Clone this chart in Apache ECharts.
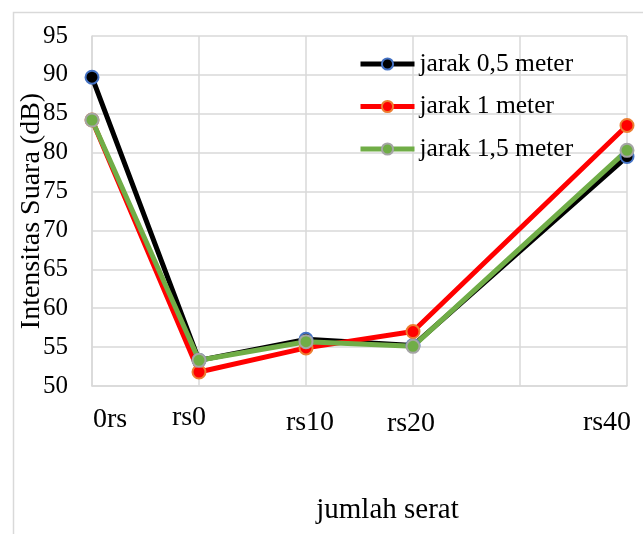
<!DOCTYPE html>
<html>
<head>
<meta charset="utf-8">
<script src="https://cdn.jsdelivr.net/npm/echarts@6/dist/echarts.min.js"></script>
<style>html,body{margin:0;padding:0;background:#fff;}#c{width:643px;height:534px;}</style>
</head>
<body>
<div id="c"></div>
<script>
const categories = ['0rs', 'rs0', 'rs10', 'rs20', '', 'rs40'];
const seriesNames = ['jarak 0,5 meter', 'jarak 1 meter', 'jarak 1,5 meter'];
const jarak05 = [89.7, 53.3, 56.0, 55.2, null, 79.5];
const jarak1 = [84.2, 51.8, 54.9, 57.0, null, 83.5];
const jarak15 = [84.2, 53.3, 55.7, 55.1, null, 80.3];
const yTicks = { min: 50, max: 95, interval: 5 };
const yName = 'Intensitas Suara (dB)';
const xName = 'jumlah serat';

const FONT = 'Liberation Serif';
const grid = '#D9D9D9';
const labelStyles = [
  { padding: [21, 0, 0, 36] },
  { padding: [17, 20, 0, 0] },
  { padding: [28, 0, 0, 8] },
  { padding: [30, 4, 0, 0] },
  { padding: [0, 0, 0, 0] },
  { padding: [27, 40, 0, 0] }
];
const rich = {};
labelStyles.forEach((s, i) => {
  rich['c' + i] = Object.assign({ fontFamily: FONT, fontSize: 28, color: '#000', lineHeight: 30 }, s);
});

function mk(name, data, color, border) {
  return {
    name, type: 'line', data, connectNulls: true,
    symbol: 'circle', symbolSize: 13,
    lineStyle: { color, width: 5 },
    itemStyle: { color, borderColor: border, borderWidth: 2 },
    emphasis: { disabled: true }, animation: false
  };
}

const chart = echarts.init(document.getElementById('c'));
chart.setOption({
  animation: false,
  backgroundColor: '#fff',
  graphic: [{
    type: 'rect', left: 11, top: 10, shape: { width: 700, height: 600 },
    style: { fill: 'none', stroke: grid, lineWidth: 1.5 }, silent: true
  }],
  grid: { left: 92, right: 16, top: 36, bottom: 148, containLabel: false, outerBoundsMode: 'none' },
  legend: {
    orient: 'vertical', left: 353, top: 46,
    itemWidth: 54, itemHeight: 14, itemGap: 16.5,
    lineStyle: { width: 5 },
    textStyle: { fontFamily: FONT, fontSize: 25.5, color: '#000', lineHeight: 24, padding: [0, 0, 0, 0] },
    data: seriesNames
  },
  xAxis: {
    type: 'category', data: categories, boundaryGap: false,
    axisLine: { show: true, lineStyle: { color: grid, width: 1.5 } },
    axisTick: { show: false },
    splitLine: { show: true, lineStyle: { color: grid, width: 1.5 } },
    axisLabel: {
      interval: 0, margin: 8,
      formatter: (v, i) => v ? '{c' + i + '|' + v + '}' : '',
      rich
    },
    name: xName, nameLocation: 'middle', nameGap: 110, nameMoveOverlap: false,
    nameTextStyle: { fontFamily: FONT, fontSize: 29, color: '#000', padding: [0, 0, 0, 56] }
  },
  yAxis: {
    type: 'value', min: yTicks.min, max: yTicks.max, interval: yTicks.interval,
    axisLine: { show: true, lineStyle: { color: grid, width: 1.5 } },
    axisTick: { show: false },
    splitLine: { show: true, lineStyle: { color: grid, width: 1.5 } },
    axisLabel: { fontFamily: FONT, fontSize: 25, color: '#000', margin: 24 },
    name: yName, nameLocation: 'middle', nameGap: 46, nameRotate: 90, nameMoveOverlap: false,
    nameTextStyle: { fontFamily: FONT, fontSize: 28, color: '#000' }
  },
  series: [
    mk(seriesNames[0], jarak05, '#000000', '#4472C4'),
    mk(seriesNames[1], jarak1, '#FF0000', '#ED7D31'),
    mk(seriesNames[2], jarak15, '#70AD47', '#A5A5A5')
  ]
});
</script>
</body>
</html>
